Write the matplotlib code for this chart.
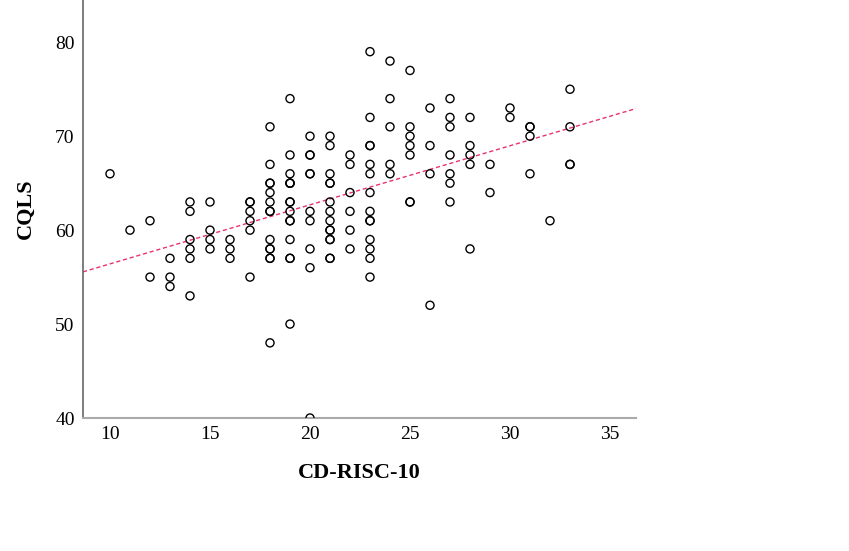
import numpy as np
import matplotlib
matplotlib.use("Agg")
import matplotlib.pyplot as plt

# CD-RISC-10 score -> list of CQLS scores (duplicates kept)
x_vals = [10, 11, 12, 12, 13, 13, 13,
          14, 14, 14, 14, 14, 14,
          15, 15, 15, 15,
          16, 16, 16,
          17, 17, 17, 17, 17, 17,
          18, 18, 18, 18, 18, 18, 18, 18, 18, 18, 18, 18, 18, 18,
          19, 19, 19, 19, 19, 19, 19, 19, 19, 19, 19, 19, 19, 19, 19,
          20, 20, 20, 20, 20, 20, 20, 20, 20, 20,
          21, 21, 21, 21, 21, 21, 21, 21, 21, 21, 21, 21, 21, 21,
          22, 22, 22, 22, 22, 22,
          23, 23, 23, 23, 23, 23, 23, 23, 23, 23, 23, 23, 23, 23,
          24, 24, 24, 24, 24,
          25, 25, 25, 25, 25, 25, 25,
          26, 26, 26, 26,
          27, 27, 27, 27, 27, 27, 27,
          28, 28, 28, 28, 28,
          29, 29,
          30, 30,
          31, 31, 31, 31,
          32,
          33, 33, 33, 33]
y_vals = [66, 60, 61, 55, 57, 55, 54,
          63, 62, 59, 58, 57, 53,
          63, 60, 59, 58,
          59, 58, 57,
          63, 63, 62, 61, 60, 55,
          71, 67, 65, 65, 64, 63, 62, 62, 59, 58, 58, 57, 57, 48,
          74, 68, 66, 65, 65, 63, 63, 62, 61, 61, 59, 57, 57, 50, 65,
          70, 68, 68, 66, 66, 62, 61, 58, 56, 40,
          70, 69, 66, 65, 65, 63, 62, 61, 60, 60, 59, 59, 57, 57,
          68, 67, 64, 62, 60, 58,
          79, 72, 69, 69, 67, 66, 64, 62, 61, 59, 58, 57, 55, 61,
          78, 74, 71, 67, 66,
          77, 71, 70, 69, 68, 63, 63,
          73, 69, 66, 52,
          74, 72, 71, 68, 66, 65, 63,
          72, 69, 68, 67, 58,
          67, 64,
          73, 72,
          71, 71, 70, 66,
          61,
          75, 71, 67, 67]

x = np.array(x_vals, dtype=float)
y = np.array(y_vals, dtype=float)

plt.rcParams['font.family'] = ['Liberation Serif', 'DejaVu Serif']

fig = plt.figure(figsize=(8.49, 5.51), dpi=100)
ax = fig.add_axes([83 / 849, 133 / 551, 553 / 849, 418 / 551])

ax.scatter(x, y, s=34, facecolors='none', edgecolors='black', linewidths=1.0, zorder=3)

xlim = (8.65, 36.3)
ylim = (40, 84.5)
slope, intercept = np.polyfit(x, y, 1)
xl = np.array(xlim)
ax.plot(xl, slope * xl + intercept, color='#E8336B', linestyle=(0, (3, 2)), linewidth=1.0, zorder=2)

ax.set_xlim(*xlim)
ax.set_ylim(*ylim)
ax.set_xticks([10, 15, 20, 25, 30, 35])
ax.set_yticks([40, 50, 60, 70, 80])
ax.tick_params(length=0, labelsize=14, pad=6)

for side in ['top', 'right']:
    ax.spines[side].set_visible(False)
ax.spines['left'].set_color('#666666')
ax.spines['bottom'].set_color('#aaaaaa')
ax.spines['left'].set_linewidth(1.2)
ax.spines['bottom'].set_linewidth(1.5)

ax.set_xlabel('CD-RISC-10', fontsize=16, fontweight='bold', labelpad=14)
ax.set_ylabel('CQLS', fontsize=16, fontweight='bold', labelpad=14)

fig.savefig('out.png', dpi=100)
